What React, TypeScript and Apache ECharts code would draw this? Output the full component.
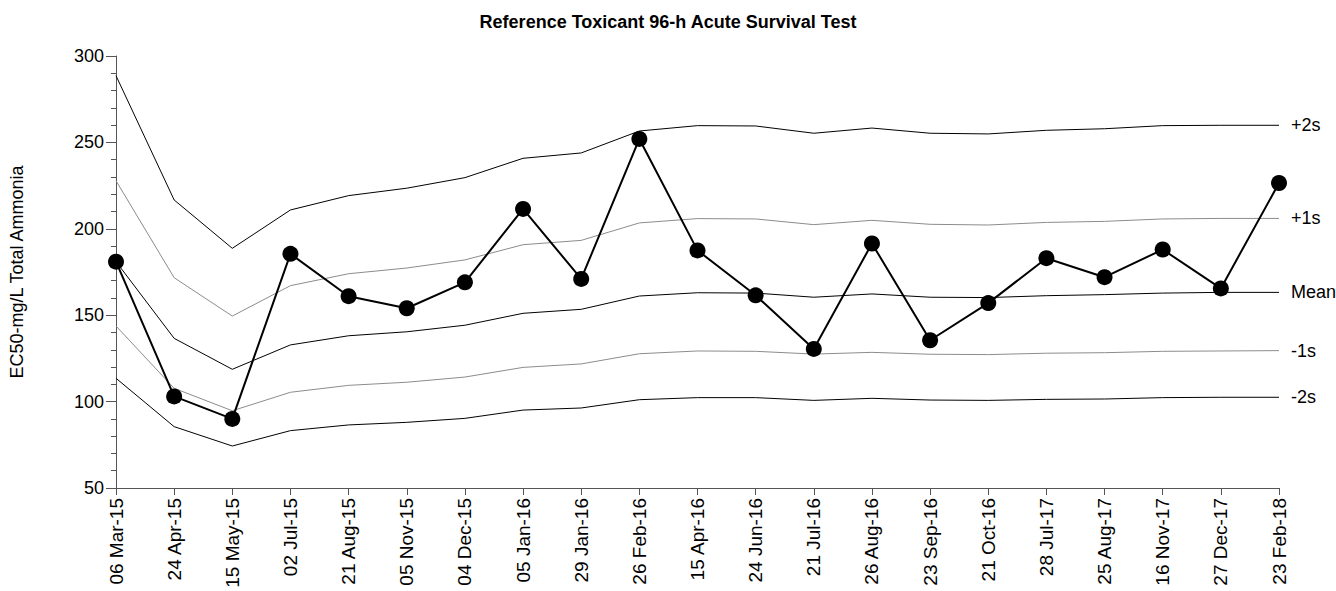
import React, { useEffect, useRef } from "react";
import * as echarts from "echarts";

const categories = [
  "06 Mar-15", "24 Apr-15", "15 May-15", "02 Jul-15", "21 Aug-15", "05 Nov-15",
  "04 Dec-15", "05 Jan-16", "29 Jan-16", "26 Feb-16", "15 Apr-16", "24 Jun-16",
  "21 Jul-16", "26 Aug-16", "23 Sep-16", "21 Oct-16", "28 Jul-17", "25 Aug-17",
  "16 Nov-17", "27 Dec-17", "23 Feb-18",
];

const ec50 = [181, 103, 90, 185.5, 161, 154, 169, 211.5, 171, 252, 187.5, 161.5, 130.5, 191.5, 135.5, 157, 183, 172, 188, 165.5, 226.5];
const plus2s = [288.6, 216.7, 188.7, 210.9, 219.2, 223.5, 229.6, 240.8, 243.9, 256.6, 259.7, 259.5, 255.3, 258.3, 255.3, 254.9, 257, 257.9, 259.7, 259.9, 259.9];
const plus1s = [227.8, 171.7, 149.5, 167.1, 174, 177.3, 182, 190.8, 193.3, 203.4, 205.9, 205.7, 202.4, 204.9, 202.6, 202.2, 203.7, 204.3, 205.7, 206, 206];
const meanLine = [181, 136.6, 118.7, 132.8, 138.1, 140.4, 144.2, 151.1, 153.4, 161.1, 163, 162.8, 160.4, 162.3, 160.4, 160.2, 161.3, 161.9, 162.8, 163.2, 163.2];
const minus1s = [143.75, 107.7, 94.7, 105.4, 109.4, 111.2, 114.2, 119.8, 121.8, 127.7, 129.3, 129.1, 127.5, 128.5, 127.4, 127.2, 128, 128.3, 129.1, 129.3, 129.5];
const minus2s = [113.5, 85.5, 74.3, 83.2, 86.5, 88, 90.3, 95.1, 96.3, 101.1, 102.3, 102.3, 100.7, 101.9, 100.9, 100.7, 101.3, 101.5, 102.3, 102.5, 102.5];

const FONT = "'Liberation Sans', Arial, sans-serif";

function band(name: string, data: number[], color: string, label: string) {
  return {
    name,
    type: "line",
    data,
    symbol: "none",
    lineStyle: { color, width: 1 },
    z: 2,
    endLabel: {
      show: true,
      formatter: label,
      color: "#000",
      fontFamily: FONT,
      fontSize: 18,
      distance: 12,
    },
  };
}

export default function App() {
  const ref = useRef<HTMLDivElement>(null);
  useEffect(() => {
    document.body.style.margin = "0";
    if (!ref.current) return;
    const chart = echarts.init(ref.current, undefined, { renderer: "svg" });
    chart.setOption({
      animation: false,
      backgroundColor: "#fff",
      textStyle: { fontFamily: FONT },
      title: {
        text: "Reference Toxicant 96-h Acute Survival Test",
        left: "center",
        top: 8,
        textStyle: { fontFamily: FONT, fontSize: 18, fontWeight: "bold", color: "#000" },
      },
      grid: { left: 115, right: 57, top: 56, bottom: 103, containLabel: false },
      xAxis: {
        type: "category",
        data: categories,
        boundaryGap: false,
        axisLine: { lineStyle: { color: "#555", width: 1 } },
        axisTick: { show: true, length: 7, lineStyle: { color: "#555" } },
        axisLabel: {
          rotate: 90,
          fontSize: 19,
          color: "#000",
          fontFamily: FONT,
          margin: 10,
          interval: 0,
        },
        splitLine: { show: false },
      },
      yAxis: {
        type: "value",
        min: 50,
        max: 300,
        interval: 50,
        name: "EC50-mg/L Total Ammonia",
        nameLocation: "middle",
        nameGap: 90,
        nameTextStyle: { fontFamily: FONT, fontSize: 18, color: "#000" },
        axisLine: { show: true, lineStyle: { color: "#555", width: 1 } },
        axisTick: { show: true, length: 10, lineStyle: { color: "#555" } },
        minorTick: { show: true, splitNumber: 5, length: 5, lineStyle: { color: "#555" } },
        axisLabel: { fontSize: 18, color: "#000", fontFamily: FONT, margin: 12 },
        splitLine: { show: false },
      },
      series: [
        band("+2s", plus2s, "#000", "+2s"),
        band("+1s", plus1s, "#8c8c8c", "+1s"),
        band("Mean", meanLine, "#000", "Mean"),
        band("-1s", minus1s, "#8c8c8c", "-1s"),
        band("-2s", minus2s, "#000", "-2s"),
        {
          name: "EC50",
          type: "line",
          data: ec50,
          symbol: "circle",
          symbolSize: 16,
          itemStyle: { color: "#000" },
          lineStyle: { color: "#000", width: 2 },
          z: 5,
        },
      ],
    });
    return () => chart.dispose();
  }, []);
  return <div ref={ref} style={{ width: 1336, height: 591 }} />;
}
